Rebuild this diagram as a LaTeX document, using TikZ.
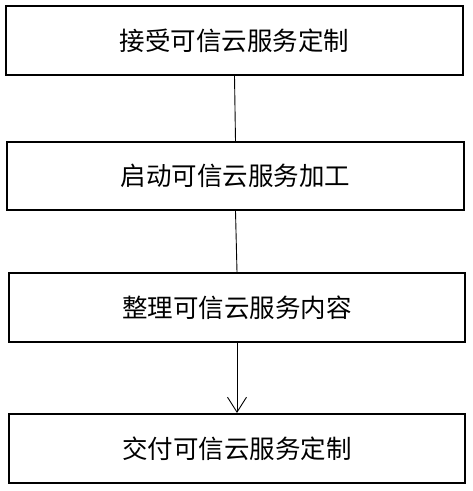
\documentclass[tikz,border=0pt]{standalone}
\usepackage{fontspec}
\newfontfamily\cjk{Noto Sans CJK SC}
\usetikzlibrary{arrows.meta}
\begin{document}
\begin{tikzpicture}[x=1pt,y=-1pt,
  stepbox/.style={draw=black,line width=2pt,rectangle,inner sep=0pt,
    font=\cjk\fontsize{25.5pt}{27pt}\selectfont},
  conn/.style={draw=black,line width=0.9pt}]
\useasboundingbox[fill=white] (0,0) rectangle (473,491);
\node[stepbox,minimum width=457pt,minimum height=69pt] (b1) at (234.5,40.5) {接受可信云服务定制};
\node[stepbox,minimum width=457pt,minimum height=68pt] (b2) at (235.5,176) {启动可信云服务加工};
\node[stepbox,minimum width=456pt,minimum height=69pt] (b3) at (237,307.5) {整理可信云服务内容};
\node[stepbox,minimum width=456pt,minimum height=69pt] (b4) at (237,448.5) {交付可信云服务定制};
\draw[conn] (b1.south) -- (b2.north);
\draw[conn] (b2.south) -- (b3.north);
\draw[conn,-{Straight Barb[length=15pt,width=19pt,line width=0.9pt]}] (b3.south) -- (b4.north);
\end{tikzpicture}
\end{document}
